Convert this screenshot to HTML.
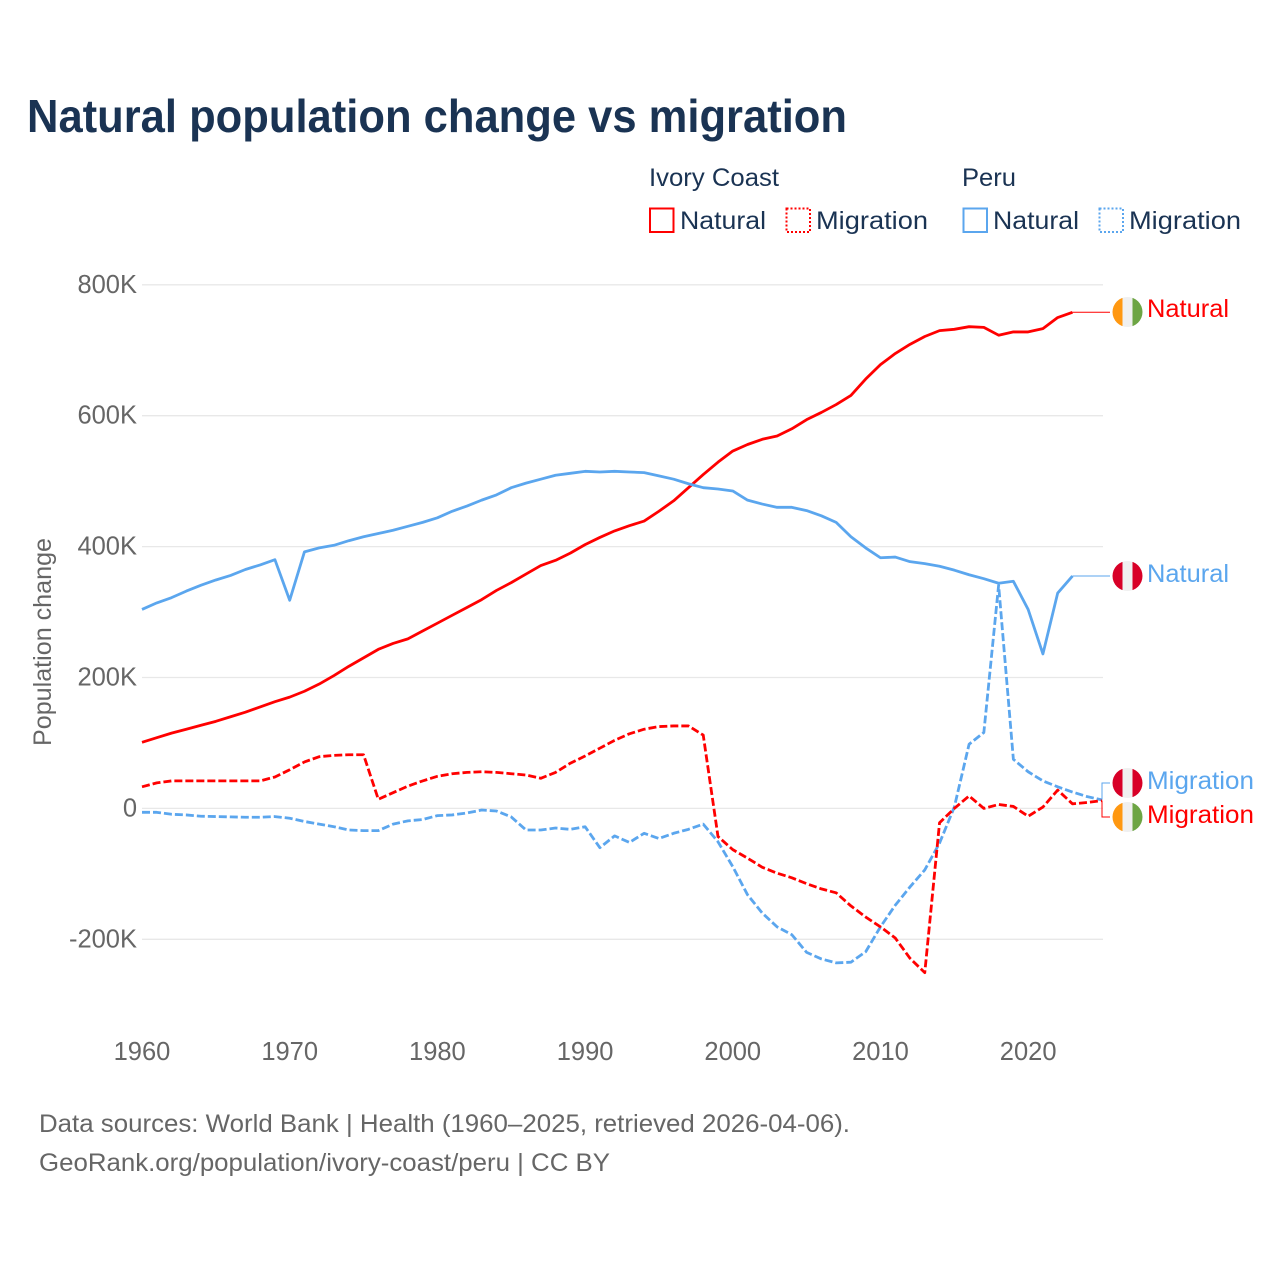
<!DOCTYPE html>
<html lang="en">
<head>
<meta charset="utf-8">
<title>Natural population change vs migration</title>
<style>
html,body{margin:0;padding:0;background:#fff}
svg{display:block}
text{font-family:"Liberation Sans",sans-serif}
</style>
</head>
<body>
<svg id="chart" width="1280" height="1280" viewBox="0 0 1280 1280" xmlns="http://www.w3.org/2000/svg">
<defs>
<clipPath id="flag-clip"><circle cx="0" cy="0" r="15"></circle></clipPath>
</defs>
<rect width="1280" height="1280" fill="#fff"></rect>
<text x="27" y="132" font-size="46" font-weight="700" fill="#1a3353" textLength="820" lengthAdjust="spacingAndGlyphs">Natural population change vs migration</text>

<g font-size="25" fill="#1a3353">
<text x="649" y="186" textLength="130" lengthAdjust="spacingAndGlyphs">Ivory Coast</text>
<text x="962" y="186" textLength="54" lengthAdjust="spacingAndGlyphs">Peru</text>
<rect x="650" y="208.5" width="23.5" height="23.5" fill="none" stroke="#ff0000" stroke-width="2"></rect>
<text x="680" y="229" textLength="86" lengthAdjust="spacingAndGlyphs">Natural</text>
<rect x="786.5" y="208.5" width="23.5" height="23.5" fill="none" stroke="#ff0000" stroke-width="2" stroke-dasharray="2 2"></rect>
<text x="816" y="229" textLength="112" lengthAdjust="spacingAndGlyphs">Migration</text>
<rect x="963.5" y="208.5" width="23.5" height="23.5" fill="none" stroke="#5ba6ee" stroke-width="2"></rect>
<text x="993" y="229" textLength="86" lengthAdjust="spacingAndGlyphs">Natural</text>
<rect x="1099.5" y="208.5" width="23.5" height="23.5" fill="none" stroke="#5ba6ee" stroke-width="2" stroke-dasharray="2 2"></rect>
<text x="1129" y="229" textLength="112" lengthAdjust="spacingAndGlyphs">Migration</text>
</g>

<g id="grid"></g>
<g id="y-axis"></g>
<g id="x-axis"></g>
<text transform="translate(51 642) rotate(-90)" text-anchor="middle" font-size="25" fill="#666" textLength="208" lengthAdjust="spacingAndGlyphs">Population change</text>
<g id="series"></g>
<g id="connectors"></g>

<g transform="translate(1127.5 312)">
<circle r="16" fill="#fff"></circle>
<g clip-path="url(#flag-clip)"><rect x="-15" y="-15" width="10" height="30" fill="#ff9811"></rect><rect x="-5" y="-15" width="10" height="30" fill="#f0f0f0"></rect><rect x="5" y="-15" width="10" height="30" fill="#6da544"></rect></g>
</g>
<g transform="translate(1127.5 576)">
<circle r="16" fill="#fff"></circle>
<g clip-path="url(#flag-clip)"><rect x="-15" y="-15" width="10" height="30" fill="#d80027"></rect><rect x="-5" y="-15" width="10" height="30" fill="#f0f0f0"></rect><rect x="5" y="-15" width="10" height="30" fill="#d80027"></rect></g>
</g>
<g transform="translate(1127.5 783)">
<circle r="16" fill="#fff"></circle>
<g clip-path="url(#flag-clip)"><rect x="-15" y="-15" width="10" height="30" fill="#d80027"></rect><rect x="-5" y="-15" width="10" height="30" fill="#f0f0f0"></rect><rect x="5" y="-15" width="10" height="30" fill="#d80027"></rect></g>
</g>
<g transform="translate(1127.5 817)">
<circle r="16" fill="#fff"></circle>
<g clip-path="url(#flag-clip)"><rect x="-15" y="-15" width="10" height="30" fill="#ff9811"></rect><rect x="-5" y="-15" width="10" height="30" fill="#f0f0f0"></rect><rect x="5" y="-15" width="10" height="30" fill="#6da544"></rect></g>
</g>

<text x="1147" y="317" font-size="25" fill="#ff0000" textLength="82" lengthAdjust="spacingAndGlyphs">Natural</text>
<text x="1147" y="582" font-size="25" fill="#5ba6ee" textLength="82" lengthAdjust="spacingAndGlyphs">Natural</text>
<text x="1147" y="789" font-size="25" fill="#5ba6ee" textLength="107" lengthAdjust="spacingAndGlyphs">Migration</text>
<text x="1147" y="823" font-size="25" fill="#ff0000" textLength="107" lengthAdjust="spacingAndGlyphs">Migration</text>

<text x="39" y="1132" font-size="25" fill="#666" textLength="811" lengthAdjust="spacingAndGlyphs">Data sources: World Bank | Health (1960–2025, retrieved 2026-04-06).</text>
<text x="39" y="1171" font-size="25" fill="#666" textLength="571" lengthAdjust="spacingAndGlyphs">GeoRank.org/population/ivory-coast/peru | CC BY</text>
</svg>
<script>
const startYear = 1960;
const xTickYears = [1960, 1970, 1980, 1990, 2000, 2010, 2020];
const yTickValues = [800, 600, 400, 200, 0, -200];
const yTickLabels = ["800K", "600K", "400K", "200K", "0", "-200K"];
const ivoryNatural = [101,108,115,121,127,133,140,147,155,163,170,179,190,203,217,230,243,252,259,271,283,295,307,319,333,345,358,371,379,390,403,414,424,432,439,454,470,490,510,529,546,556,564,569,580,594,605,617,631,656,678,695,709,721,730,732,736,735,723,728,728,733,750,758];
const peruNatural = [304,314,322,332,341,349,356,365,372,380,318,392,398,402,409,415,420,425,431,437,444,454,462,471,479,490,497,503,509,512,515,514,515,514,513,508,503,496,490,488,485,471,465,460,460,455,447,437,415,398,383,384,377,374,370,364,357,351,344,347,304,236,329,355];
const ivoryMigration = [33,39,42,42,42,42,42,42,42,48,59,71,79,81,82,82,14,24,34,42,49,53,55,56,55,53,51,46,55,69,80,92,104,114,121,125,126,126,112,-43,-63,-76,-90,-99,-106,-115,-123,-129,-149,-166,-181,-198,-229,-251,-22,0,19,0,6,3,-12,2,28,7,9,12];
const peruMigration = [-6,-6,-9,-10,-12,-12.5,-13,-13.5,-13.5,-12.5,-15,-20,-24,-28,-33,-34,-34,-24,-19,-17,-11,-10,-7,-2.5,-4,-13,-33,-33,-30,-32,-28,-60,-42,-52,-38,-46,-38,-32,-24,-51,-89,-132,-160,-181,-193,-220,-230,-236,-235,-219,-181,-148,-120,-94,-53,2,98,116,341,75,56,42,33,25,18,13];

const NS = "http://www.w3.org/2000/svg";
const RED = "#ff0000";
const BLUE = "#5ba6ee";
function xScale(year) { return 142 + (year - 1960) * (960 / 65); }
function yScale(v) { return 808.4 - v * 0.6545; }
function make(tag, attrs, parent) {
  const el = document.createElementNS(NS, tag);
  for (const k in attrs) el.setAttribute(k, attrs[k]);
  parent.appendChild(el);
  return el;
}
const grid = document.getElementById("grid");
const yAxis = document.getElementById("y-axis");
const xAxis = document.getElementById("x-axis");
const seriesLayer = document.getElementById("series");
const connectors = document.getElementById("connectors");

yTickValues.forEach(function (v, i) {
  const line = make("line", {x1: 142, x2: 1103, y1: yScale(v), y2: yScale(v), stroke: "#e8e8e8", "stroke-width": 1.3}, grid);
  
  
  const label = make("text", {x: 137, y: yScale(v) + 8, "text-anchor": "end", "font-size": 25.5, fill: "#666"}, yAxis);
  label.textContent = yTickLabels[i];
  
  
});
xTickYears.forEach(function (year) {
  const label = make("text", {x: xScale(year), y: 1060, "text-anchor": "middle", "font-size": 25.5, fill: "#666"}, xAxis);
  label.textContent = String(year);
  
  
});
function linePath(values) {
  return values.map(function (v, i) {
    return (i ? "L" : "M") + xScale(startYear + i).toFixed(2) + " " + yScale(v).toFixed(2);
  }).join(" ");
}
function drawSeries(values, color, dashed) {
  const attrs = {d: linePath(values), fill: "none", stroke: color, "stroke-width": 2.8, "stroke-linejoin": "round"};
  if (dashed) attrs["stroke-dasharray"] = "8 3";
  return make("path", attrs, seriesLayer);
}
const lineIvoryNatural = drawSeries(ivoryNatural, RED, false);


const linePeruNatural = drawSeries(peruNatural, BLUE, false);


const linePeruMigration = drawSeries(peruMigration, BLUE, true);


const lineIvoryMigration = drawSeries(ivoryMigration, RED, true);



function lastY(values) { return yScale(values[values.length - 1]); }
function lastX(values) { return xScale(startYear + values.length - 1); }
const c1 = make("path", {d: "M" + lastX(ivoryNatural) + " " + lastY(ivoryNatural) + " H1110", fill: "none", stroke: RED, "stroke-width": 1}, connectors);


const c2 = make("path", {d: "M" + lastX(peruNatural) + " " + lastY(peruNatural) + " H1110", fill: "none", stroke: BLUE, "stroke-width": 1}, connectors);


const c3 = make("path", {d: "M" + lastX(peruMigration) + " " + lastY(peruMigration) + " V783 H1110", fill: "none", stroke: BLUE, "stroke-width": 1}, connectors);


const c4 = make("path", {d: "M" + lastX(ivoryMigration) + " " + lastY(ivoryMigration) + " V817 H1110", fill: "none", stroke: RED, "stroke-width": 1}, connectors);


</script>
</body>
</html>
